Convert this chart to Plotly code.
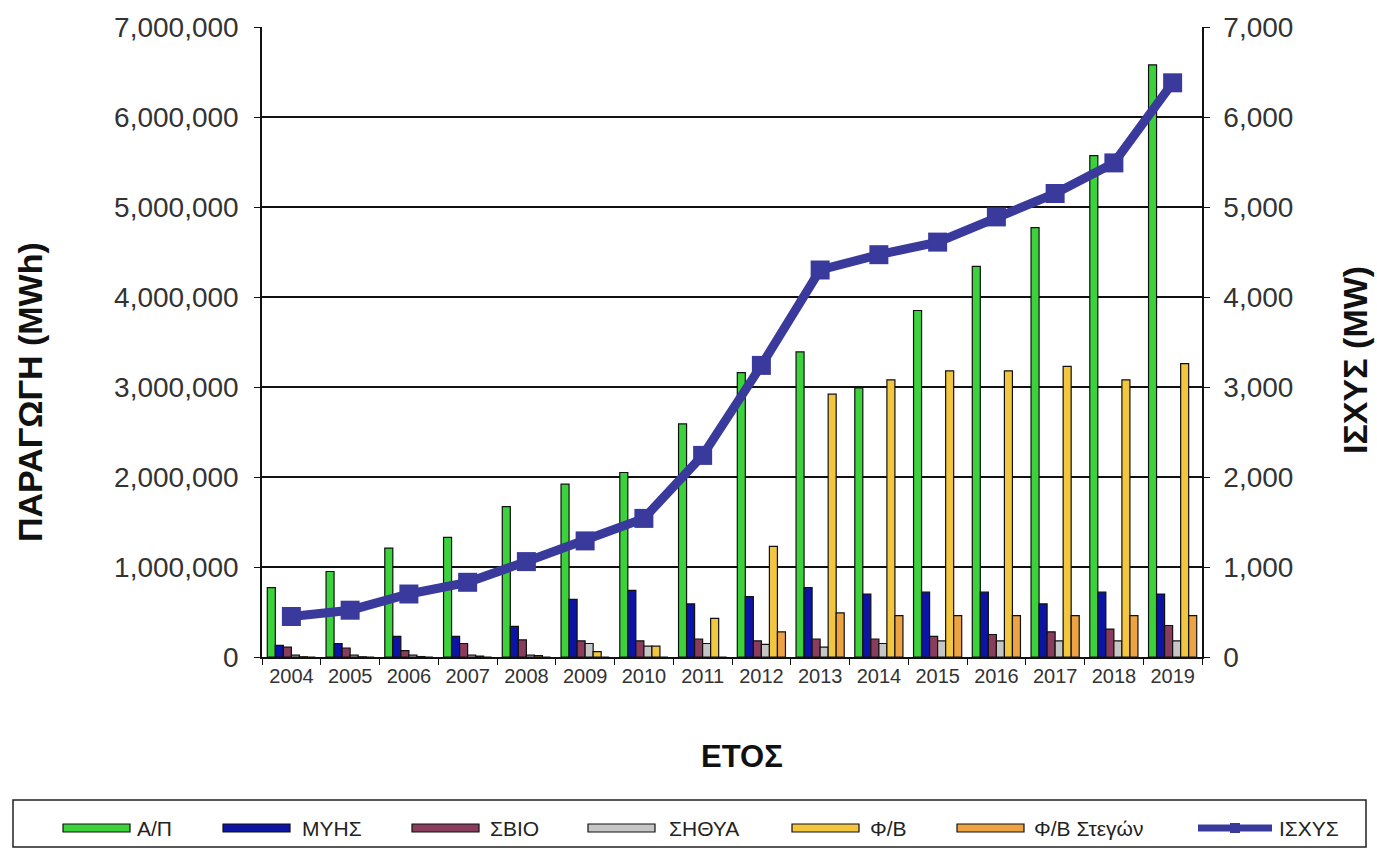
import plotly.graph_objects as go

# Annual electricity production per technology (MWh) and installed capacity (MW)
years = [str(y) for y in range(2004, 2020)]

ap = [770000, 950000, 1210000, 1330000, 1670000, 1920000, 2050000, 2590000,
      3160000, 3390000, 2990000, 3850000, 4340000, 4770000, 5570000, 6580000]
myhs = [130000, 150000, 230000, 230000, 340000, 640000, 740000, 590000,
        670000, 770000, 700000, 720000, 720000, 590000, 720000, 700000]
sbio = [110000, 100000, 70000, 150000, 190000, 180000, 180000, 200000,
        180000, 200000, 200000, 230000, 250000, 280000, 310000, 350000]
sithya = [20000, 20000, 20000, 20000, 20000, 150000, 120000, 150000,
          140000, 110000, 150000, 180000, 180000, 180000, 180000, 180000]
fv = [3000, 3000, 5000, 10000, 15000, 60000, 120000, 430000,
      1230000, 2920000, 3080000, 3180000, 3180000, 3230000, 3080000, 3260000]
fv_roof = [0, 0, 0, 0, 0, 0, 0, 0,
           280000, 490000, 460000, 460000, 460000, 460000, 460000, 460000]
capacity = [450, 520, 700, 830, 1060, 1290, 1540, 2240,
            3240, 4300, 4470, 4610, 4890, 5150, 5490, 6380]

bar_names = ["Α/Π", "ΜΥΗΣ", "ΣΒΙΟ", "ΣΗΘΥΑ", "Φ/Β", "Φ/Β Στεγών"]
bar_values = [ap, myhs, sbio, sithya, fv, fv_roof]
bar_colors = ["#3CD23C", "#0C14A6", "#8A3C5C", "#C6C6C6", "#F2C63E", "#EDA243"]
line_name = "ΙΣΧΥΣ"
line_color = "#3A3A9C"

W, H = 1377, 851
ML, MR, MT, MB = 262, 175, 27, 194
PW, PH = W - ML - MR, H - MT - MB

FONT = "Liberation Sans, Arial, sans-serif"


def px_x(x):
    return (x - ML) / PW


def px_y(y):
    return (H - MB - y) / PH


fig = go.Figure()

for name, vals, col in zip(bar_names, bar_values, bar_colors):
    fig.add_trace(go.Bar(
        x=years, y=vals, name=name,
        marker=dict(color=col, line=dict(color="#111111", width=1.2)),
        showlegend=False,
    ))

fig.add_trace(go.Scatter(
    x=years, y=capacity, name=line_name, yaxis="y2",
    mode="lines+markers",
    line=dict(color=line_color, width=9),
    marker=dict(symbol="square", size=19, color=line_color),
    showlegend=False,
))

shapes = []
annotations = []

# Legend frame along the bottom
shapes.append(dict(type="rect", xref="paper", yref="paper",
                   x0=px_x(13), x1=px_x(1366), y0=px_y(800), y1=px_y(847),
                   line=dict(color="#222222", width=1.5), fillcolor="white",
                   layer="below"))

swatch_x = [63, 223, 412, 588, 792, 957]
text_x = [135, 300, 488, 667, 868, 1032]
sy = 828
for name, col, x0, tx in zip(bar_names, bar_colors, swatch_x, text_x):
    shapes.append(dict(type="rect", xref="paper", yref="paper",
                       x0=px_x(x0), x1=px_x(x0 + 67),
                       y0=px_y(sy + 4), y1=px_y(sy - 4),
                       fillcolor=col, line=dict(color="#111111", width=1.2)))
    annotations.append(dict(text=name, xref="paper", yref="paper",
                            x=px_x(tx), y=px_y(sy), xanchor="left",
                            yanchor="middle", showarrow=False,
                            font=dict(family=FONT, size=21, color="#222222")))

# Capacity line swatch
shapes.append(dict(type="line", xref="paper", yref="paper",
                   x0=px_x(1198), x1=px_x(1272), y0=px_y(sy), y1=px_y(sy),
                   line=dict(color=line_color, width=7)))
shapes.append(dict(type="rect", xref="paper", yref="paper",
                   x0=px_x(1230), x1=px_x(1240), y0=px_y(sy + 5),
                   y1=px_y(sy - 5), fillcolor=line_color,
                   line=dict(width=0)))
annotations.append(dict(text=line_name, xref="paper", yref="paper",
                        x=px_x(1277), y=px_y(sy), xanchor="left",
                        yanchor="middle", showarrow=False,
                        font=dict(family=FONT, size=21, color="#222222")))

# Axis titles
title_font = dict(family=FONT, size=31, color="#111111")
annotations.append(dict(text="<b>ΠΑΡΑΓΩΓΗ (MWh)</b>", xref="paper",
                        yref="paper", x=px_x(30), y=px_y(392),
                        xanchor="center", yanchor="middle",
                        textangle=-90, showarrow=False,
                        font=dict(family=FONT, size=34, color="#111111")))
annotations.append(dict(text="<b>ΙΣΧΥΣ (MW)</b>", xref="paper",
                        yref="paper", x=px_x(1355), y=px_y(360),
                        xanchor="center", yanchor="middle",
                        textangle=-90, showarrow=False,
                        font=dict(family=FONT, size=34, color="#111111")))
annotations.append(dict(text="<b>ΕΤΟΣ</b>", xref="paper", yref="paper",
                        x=px_x(742), y=px_y(757), xanchor="center",
                        yanchor="middle", showarrow=False, font=title_font))

fig.update_layout(
    width=W, height=H,
    margin=dict(l=ML, r=MR, t=MT, b=MB, autoexpand=False),
    paper_bgcolor="white", plot_bgcolor="white",
    barmode="group", bargap=0.18, bargroupgap=0,
    font=dict(family=FONT, color="#333333"),
    xaxis=dict(type="category", range=[-0.5, len(years) - 0.5],
               tickson="boundaries", ticks="outside",
               ticklen=6, tickcolor="#111111", showline=True,
               linecolor="#111111", linewidth=1.5, showgrid=False,
               tickfont=dict(family=FONT, size=20, color="#333333")),
    yaxis=dict(range=[0, 7000000], dtick=1000000, tickformat=",",
               showgrid=True, gridcolor="#111111", gridwidth=1.5,
               showline=True, linecolor="#111111", linewidth=1.5,
               ticks="outside", ticklen=6, tickcolor="#111111",
               zeroline=False, ticklabelstandoff=10,
               tickfont=dict(family=FONT, size=28, color="#333333")),
    yaxis2=dict(range=[0, 7000], dtick=1000, tickformat=",",
                overlaying="y", side="right", showgrid=False,
                showline=True, linecolor="#111111", linewidth=1.5,
                ticks="outside", ticklen=6, tickcolor="#111111",
                zeroline=False, ticklabelstandoff=8,
                tickfont=dict(family=FONT, size=28, color="#333333")),
    shapes=shapes,
    annotations=annotations,
    showlegend=False,
)

fig.write_html("out.html")
